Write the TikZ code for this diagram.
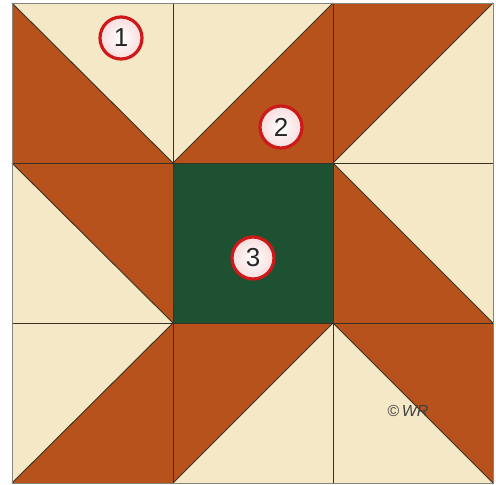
\documentclass[tikz,border=0pt]{standalone}
\usepackage{fontspec}
\setmainfont{Liberation Sans}
\begin{document}
\begin{tikzpicture}[x=1pt,y=-1pt,
  seam/.style={draw=seamc,line width=0.9pt},
  marker/.style={circle,inner color=white,outer color=white!85!markred,draw=markred,line width=3.2pt,minimum size=42pt,inner sep=0pt,text=black!85,font=\fontsize{26}{26}\selectfont}]
\definecolor{rustc}{RGB}{184,82,28}
\definecolor{creamc}{RGB}{245,232,198}
\definecolor{greenc}{RGB}{30,80,50}
\definecolor{seamc}{RGB}{55,50,35}
\definecolor{markred}{RGB}{205,25,25}
\useasboundingbox (0,0) rectangle (496,485);
\fill[white] (0,0) rectangle (496,485);
% grid coordinates
\coordinate (A0) at (12,3);   \coordinate (A1) at (173,3);   \coordinate (A2) at (333,3);   \coordinate (A3) at (493,3);
\coordinate (B0) at (12,163); \coordinate (B1) at (173,163); \coordinate (B2) at (333,163); \coordinate (B3) at (493,163);
\coordinate (C0) at (12,323); \coordinate (C1) at (173,323); \coordinate (C2) at (333,323); \coordinate (C3) at (493,323);
\coordinate (D0) at (12,483); \coordinate (D1) at (173,483); \coordinate (D2) at (333,483); \coordinate (D3) at (493,483);
% base cream
\fill[creamc] (A0) rectangle (D3);
% rust triangles
\fill[rustc] (A0) -- (B1) -- (B0) -- cycle;
\fill[rustc] (B1) -- (A2) -- (B2) -- cycle;
\fill[rustc] (A2) -- (A3) -- (B2) -- cycle;
\fill[rustc] (B0) -- (B1) -- (C1) -- cycle;
\fill[greenc] (B1) rectangle (C2);
\fill[rustc] (B2) -- (C3) -- (C2) -- cycle;
\fill[rustc] (C1) -- (D1) -- (D0) -- cycle;
\fill[rustc] (C1) -- (C2) -- (D1) -- cycle;
\fill[rustc] (C2) -- (C3) -- (D3) -- cycle;
% seams
\draw[seam] (A0) -- (B1) -- (A2) (B2) -- (A3);
\draw[seam] (B0) -- (C1) (B2) -- (C3);
\draw[seam] (D0) -- (C1) (D1) -- (C2) -- (D3);
\draw[seam] (A1) -- (D1) (A2) -- (D2) (B0) -- (B3) (C0) -- (C3);
\draw[seamc!60,line width=0.6pt] (A0) rectangle (D3);
% markers
\node[marker] (m1) at (121,38) {1};
\node[marker] (m2) at (281,127) {2};
\node[marker] (m3) at (253,258) {3};
% watermark
\node[text=black!75,font=\itshape\fontsize{16}{16}\selectfont] (wm) at (408,411) {\textcopyright\,WR};
\end{tikzpicture}
\end{document}
